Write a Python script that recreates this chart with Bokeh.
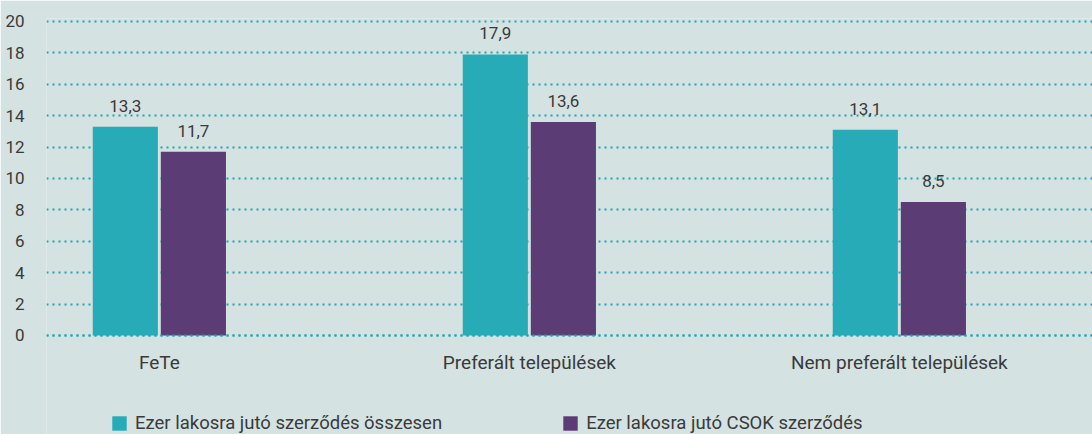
from bokeh.plotting import figure
from bokeh.models import ColumnDataSource, Range1d, FixedTicker, Legend, LegendItem, Span
from bokeh.transform import dodge
from bokeh.core.properties import value
from bokeh.embed import file_html
from bokeh.resources import INLINE

categories = ["FeTe", "Preferált települések", "Nem preferált települések"]
total = [13.3, 17.9, 13.1]
csok = [11.7, 13.6, 8.5]
series_names = ["Ezer lakosra jutó szerződés összesen", "Ezer lakosra jutó CSOK szerződés"]
y_ticks = [0, 2, 4, 6, 8, 10, 12, 14, 16, 18, 20]

TEAL = "#26abb7"
PURPLE = "#5b3c74"
BG = "#d4e2e2"
GRID = "#1ea5b5"
TXT = "#3a3a3a"
FONT = "Roboto"

idx = list(range(len(categories)))
src = ColumnDataSource(dict(
    idx=idx,
    cat=categories,
    base=[0] * len(categories),
    total=total,
    csok=csok,
    total_lbl=[f"{v:.1f}".replace(".", ",") for v in total],
    csok_lbl=[f"{v:.1f}".replace(".", ",") for v in csok],
))

p = figure(width=1092, height=434, output_backend="svg", toolbar_location=None,
           x_range=Range1d(-0.305, 2.522), y_range=Range1d(-6.306, 20.19),
           x_axis_location=None,
           min_border_left=46, min_border_right=0, min_border_top=18, min_border_bottom=0)
p.background_fill_color = BG
p.border_fill_color = BG
p.outline_line_color = None

off = 0.092
w = 0.176
r1 = p.vbar(x=dodge("idx", -off), top="total", width=w, source=src, color=TEAL, line_color=None)
r2 = p.vbar(x=dodge("idx", off), top="csok", width=w, source=src, color=PURPLE, line_color=None)

# baseline (dotted, drawn over bars like the reference)
p.add_layout(Span(location=0, dimension="width", line_color=GRID, line_dash="2 4",
                  line_width=2, level="overlay"))

p.text(x=dodge("idx", -off), y="total", text="total_lbl", source=src, y_offset=-15,
       text_align="center", text_baseline="bottom", text_font=value(FONT),
       text_font_size="17px", text_color=TXT)
p.text(x=dodge("idx", off), y="csok", text="csok_lbl", source=src, y_offset=-15,
       text_align="center", text_baseline="bottom", text_font=value(FONT),
       text_font_size="17px", text_color=TXT)

# category labels under the baseline
p.text(x="idx", y="base", text="cat", source=src, y_offset=27,
       text_align="center", text_baseline="middle", text_font=value(FONT),
       text_font_size="19px", text_color=TXT)

# grid
p.xgrid.grid_line_color = None
p.ygrid.ticker = FixedTicker(ticks=y_ticks)
p.ygrid.grid_line_color = GRID
p.ygrid.grid_line_dash = "2 4"
p.ygrid.grid_line_width = 2

# y axis
p.yaxis.ticker = FixedTicker(ticks=y_ticks)
p.yaxis.axis_line_color = None
p.yaxis.major_tick_line_color = None
p.yaxis.minor_tick_line_color = None
p.yaxis.major_label_text_font = FONT
p.yaxis.major_label_text_font_size = "17px"
p.yaxis.major_label_text_color = TXT
p.yaxis.major_label_standoff = 16

legend = Legend(items=[LegendItem(label=series_names[0], renderers=[r1]),
                       LegendItem(label=series_names[1], renderers=[r2])],
                orientation="horizontal", location=(64, 0),
                glyph_width=18, glyph_height=18, label_standoff=7, spacing=119,
                padding=0, margin=0, border_line_color=None,
                background_fill_alpha=0,
                label_text_font=FONT, label_text_font_size="18.5px", label_text_color=TXT)
p.add_layout(legend, "center")

open("out.html", "w").write(file_html(p, INLINE))
